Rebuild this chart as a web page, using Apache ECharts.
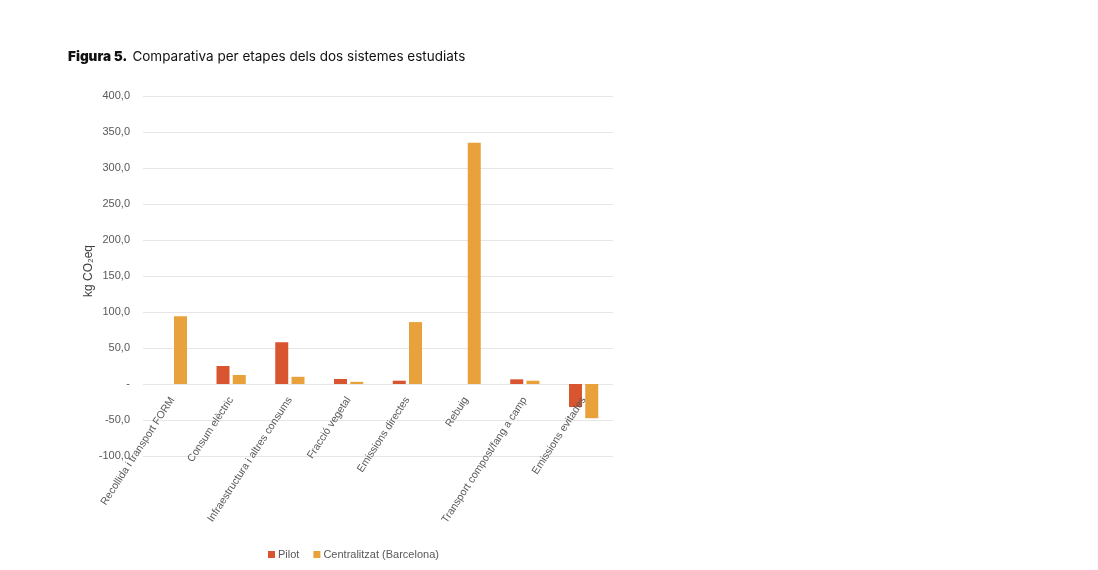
<!DOCTYPE html>
<html>
<head>
<meta charset="utf-8">
<script src="https://cdn.jsdelivr.net/npm/echarts@6/dist/echarts.min.js"></script>
<style>html,body{margin:0;padding:0;background:#fff;}#chart{width:1098px;height:570px;}</style>
</head>
<body>
<div id="chart"></div>
<script>
const categories = ["Recollida i transport FORM", "Consum elèctric", "Infraestructura i altres consums", "Fracció vegetal", "Emissions directes", "Rebuig", "Transport compost/fang a camp", "Emissions evitades"];
const pilot = [0, 25, 58, 7, 4.6, 0, 6.5, -32];
const centralitzat = [94, 12.5, 10, 3, 86, 335, 4.6, -47.5];
const seriesNames = ["Pilot", "Centralitzat (Barcelona)"];
const yTicks = { min: -100, max: 400, interval: 50 };

const chart = echarts.init(document.getElementById('chart'));
const labelFont = "'Liberation Sans', 'Open Sans', sans-serif";
chart.setOption({
  animation: false,
  backgroundColor: '#ffffff',
  title: {
    text: '{b|Figura 5.} {r|Comparativa per etapes dels dos sistemes estudiats}',
    left: 63, top: 43,
    textStyle: {
      rich: {
        b: { fontFamily: 'Inter, sans-serif', fontWeight: 900, fontSize: 13.5, color: '#111' },
        r: { fontFamily: 'Inter, sans-serif', fontWeight: 'normal', fontSize: 13.5, color: '#111' }
      }
    }
  },
  legend: {
    data: seriesNames,
    left: 263, top: 544,
    itemWidth: 7, itemHeight: 7, itemGap: 14,
    icon: 'rect',
    textStyle: { fontFamily: labelFont, fontSize: 11, color: '#595959', padding: [0,0,0,-2] }
  },
  grid: { left: 143, right: 485, top: 96, bottom: 114, containLabel: false, outerBoundsMode: 'none' },
  xAxis: {
    type: 'category',
    data: categories,
    offset: -72,
    z: 5,
    axisLine: { show: false, onZero: false },
    axisTick: { show: false },
    axisLabel: {
      interval: 0, rotate: 57, margin: 14,
      fontFamily: labelFont, fontSize: 10.5, color: '#595959'
    }
  },
  yAxis: {
    type: 'value',
    min: yTicks.min, max: yTicks.max, interval: yTicks.interval,
    name: 'kg CO₂eq',
    nameLocation: 'middle',
    nameGap: 45,
    nameRotate: 90,
    nameTextStyle: { fontFamily: labelFont, fontSize: 12, color: '#404040', padding: [0, 0, 0, 10] },
    axisLine: { show: false },
    axisTick: { show: false },
    splitLine: { lineStyle: { color: '#e6e6e6', width: 1 } },
    axisLabel: {
      margin: 13,
      fontFamily: labelFont, fontSize: 11, color: '#595959',
      formatter: v => v === 0 ? '-' : v.toFixed(1).replace('.', ',')
    }
  },
  series: [
    { name: seriesNames[0], type: 'bar', data: pilot, barWidth: 13, barGap: '25%',
      itemStyle: { color: '#D9552F' } },
    { name: seriesNames[1], type: 'bar', data: centralitzat, barWidth: 13,
      itemStyle: { color: '#E9A23B' } }
  ]
});
</script>
</body>
</html>
